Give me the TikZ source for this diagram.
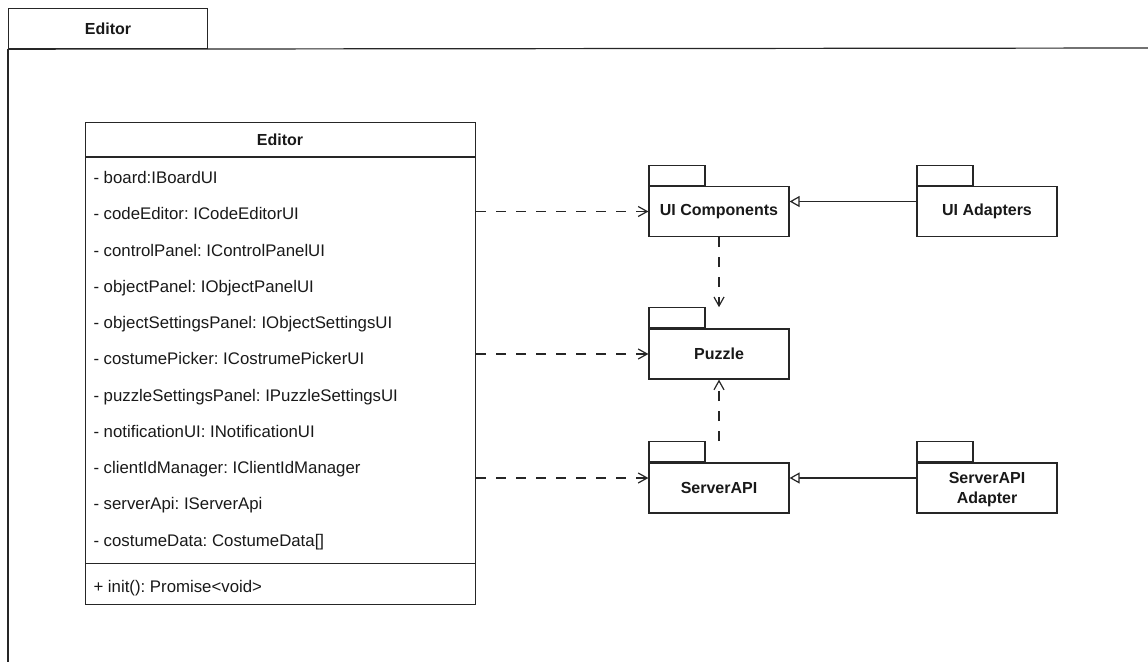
\documentclass[tikz,border=0pt]{standalone}
\usepackage{fontspec}
\setmainfont{Liberation Sans}
\usetikzlibrary{arrows.meta,calc}
\frenchspacing

\begin{document}
\begin{tikzpicture}[x=1pt,y=-1pt,
  ln/.style={draw=black!85, line width=1.2pt},
  boldtxt/.style={font=\fontsize{16}{20}\selectfont\bfseries, text=black!90},
  attr/.style={anchor=base west, inner sep=0pt, font=\fontsize{16.8}{20}\selectfont, text=black!90},
  pkgbody/.style={ln, minimum width=140pt, minimum height=50pt, inner sep=0pt, align=center, boldtxt},
  pkgtab/.style={ln, minimum width=56pt, minimum height=20pt, inner sep=0pt, anchor=south west},
  dep/.style={ln, dash pattern=on 10pt off 10pt, -{Straight Barb[length=9pt,width=10pt]}},
  gen/.style={ln, -{Triangle[open,length=10pt,width=11pt,fill=white]}}
]
\useasboundingbox (0,0) rectangle (1148,661);

% outer frame with its name tab
\node[ln, boldtxt, minimum width=199pt, minimum height=40pt, anchor=north west, inner sep=0pt] (frametab) at (8,8) {Editor};
\draw[ln] (frametab.south west) -- (8,670);
\draw[ln] (frametab.south west) -- (1160,48);

% Editor class box
\node[ln, minimum width=390pt, minimum height=482pt, anchor=north west, inner sep=0pt] (ed) at (85,122) {};
\node[boldtxt] (edname) at (280,139.5) {Editor};
\draw[ln] ($(ed.north west)+(0,35)$) -- ($(ed.north east)+(0,35)$);
\draw[ln] ($(ed.south west)+(0,-42)$) -- ($(ed.south east)+(0,-42)$);
\foreach \t [count=\i from 0] in {%
  {- board:IBoardUI},
  {- codeEditor: ICodeEditorUI},
  {- controlPanel: IControlPanelUI},
  {- objectPanel: IObjectPanelUI},
  {- objectSettingsPanel: IObjectSettingsUI},
  {- costumePicker: ICostrumePickerUI},
  {- puzzleSettingsPanel: IPuzzleSettingsUI},
  {- notificationUI: INotificationUI},
  {- clientIdManager: IClientIdManager},
  {- serverApi: IServerApi},
  {- costumeData: CostumeData[]}}
  \node[attr] (attr\i) at (93.3,183.5+36.25*\i) {\t};
\node[attr] (meth) at (93.3,592.5) {+ init(): Promise<void>};

% packages
\node[pkgbody] (uic) at (719,211.5) {UI Components};
\node[pkgtab] (uic-tab) at (uic.north west) {};
\node[pkgbody] (puz) at (719,354) {Puzzle};
\node[pkgtab] (puz-tab) at (puz.north west) {};
\node[pkgbody] (sapi) at (719,488) {ServerAPI};
\node[pkgtab] (sapi-tab) at (sapi.north west) {};
\node[pkgbody] (uia) at (987,211.5) {UI Adapters};
\node[pkgtab] (uia-tab) at (uia.north west) {};
\node[pkgbody, text depth=0pt] (sapia) at (987,488) {\fontsize{16}{21}\selectfont ServerAPI\\Adapter};
\node[pkgtab] (sapia-tab) at (sapia.north west) {};

% centres of the whole package outlines (tab included)
\coordinate (sapi-in) at ($(sapi.west)+(0,-10)$);
\coordinate (uia-out) at ($(uia.west)+(0,-10)$);
\coordinate (sapia-out) at ($(sapia.west)+(0,-10)$);

% dependencies
\draw[dep] (ed.east |- uic.west) -- (uic.west);
\draw[dep] (ed.east |- puz.west) -- (puz.west);
\draw[dep] (ed.east |- sapi-in) -- (sapi-in);
\draw[dep] (uic.south) -- (uic.south |- puz-tab.north);
\draw[dep] (sapi.north |- sapi-tab.north) -- (puz.south);

% realizations
\draw[gen] (uia-out) -- (uic.east |- uia-out);
\draw[gen] (sapia-out) -- (sapi.east |- sapia-out);
\end{tikzpicture}
\end{document}
